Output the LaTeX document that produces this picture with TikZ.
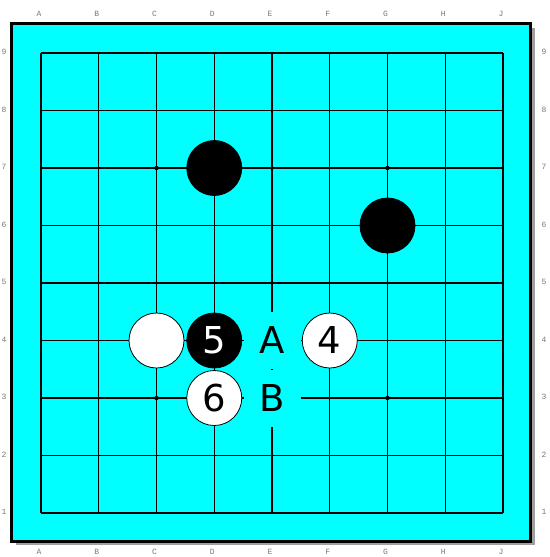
\documentclass[tikz,border=0pt]{standalone}
\usepackage{fontspec}
\setmainfont{DejaVu Sans}
\newfontfamily\labfont{Liberation Mono}
\definecolor{boardcyan}{RGB}{0,255,255}
\definecolor{shadowgray}{RGB}{160,160,160}
\definecolor{labgray}{RGB}{120,120,120}
\begin{document}
\begin{tikzpicture}[x=1pt,y=-1pt,
  gridline/.style={line width=1.1pt,black},
  coordlab/.style={font=\labfont\fontsize{8}{9}\selectfont,text=labgray,inner sep=0pt},
  blackstone/.style={circle,fill=black,draw=black,line width=0.8pt,minimum size=55pt,inner sep=0pt,text=white,font=\fontsize{37}{40}\selectfont},
  whitestone/.style={circle,fill=white,draw=black,line width=0.8pt,minimum size=55pt,inner sep=0pt,text=black,font=\fontsize{37}{40}\selectfont},
  marklab/.style={fill=boardcyan,minimum size=57pt,inner sep=0pt,text=black,font=\fontsize{37}{40}\selectfont},
  starpt/.style={circle,fill=black,minimum size=4.5pt,inner sep=0pt}]
\useasboundingbox (0,0) rectangle (549,557);
% shadow and board
\fill[shadowgray] (15.5,27.5) rectangle (534.5,545);
\fill[boardcyan] (11.5,23.5) rectangle (530.5,541);
\draw[line width=3pt,black] (11.5,23.5) rectangle (530.5,541);
% grid
\foreach \i in {0,...,8} {
  \draw[gridline] ({41+57.75*\i},53) -- ({41+57.75*\i},513);
  \draw[gridline] (41,{53+57.5*\i}) -- (503,{53+57.5*\i});
}
% star points
\node[starpt] (s1) at (156.5,168) {};
\node[starpt] (s2) at (387.5,168) {};
\node[starpt] (s3) at (156.5,398) {};
\node[starpt] (s4) at (387.5,398) {};
% coordinate labels
\foreach \c [count=\k from 0] in {A,B,C,D,E,F,G,H,J} {
  \node[coordlab] (t\c) at ({39+57.75*\k},14) {\c};
  \node[coordlab] (b\c) at ({39+57.75*\k},552) {\c};
}
\foreach \r [count=\k from 0] in {9,8,7,6,5,4,3,2,1} {
  \node[coordlab] (l\r) at (4,{52+57.5*\k}) {\r};
  \node[coordlab] (r\r) at (544,{52+57.5*\k}) {\r};
}
% marks
\node[marklab] (mA) at (272,340.5) {A};
\node[marklab] (mB) at (272,398.5) {B};
% stones
\node[blackstone] (d7) at (214.25,168) {};
\node[blackstone] (g6) at (387.5,225.5) {};
\node[whitestone] (c4) at (156.5,340.5) {};
\node[blackstone] (d4) at (214.25,340.5) {5};
\node[whitestone] (f4) at (329.75,340.5) {4};
\node[whitestone] (d3) at (214.25,398) {6};
\end{tikzpicture}
\end{document}
